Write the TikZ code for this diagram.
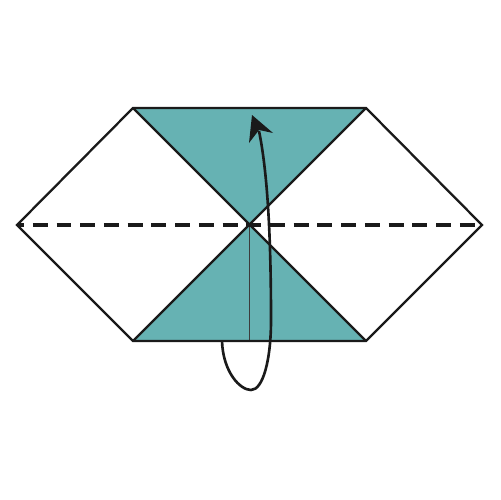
\documentclass[tikz,border=0pt]{standalone}
\definecolor{teal1}{HTML}{66B2B3}
\definecolor{ink}{HTML}{1A1A1A}
\begin{document}
\begin{tikzpicture}[x=0.02cm,y=-0.02cm,
  outline/.style={draw=ink,line width=1.3pt,line join=miter},
  fold/.style={draw=ink,line width=1.9pt,dash pattern=on 8.5pt off 5pt,dash phase=-9pt},
  crease/.style={draw=ink!85,line width=0.5pt},
  arrowline/.style={draw=ink,line width=1.5pt}]
\useasboundingbox (0,0) rectangle (500,500);
\coordinate (L) at (17,225);
\coordinate (TL) at (133,108);
\coordinate (TR) at (366,108);
\coordinate (R) at (482,225);
\coordinate (BR) at (366,341);
\coordinate (BL) at (133,341);
\coordinate (C) at (249.5,224.5);
\coordinate (B) at (249.5,341);
\fill[teal1] (TL) -- (TR) -- (C) -- cycle;
\fill[teal1] (BL) -- (BR) -- (C) -- cycle;
\draw[crease] (C) -- (B);
\draw[outline] (TL) -- (BR);
\draw[outline] (TR) -- (BL);
\draw[outline] (L) -- (TL) -- (TR) -- (R) -- (BR) -- (BL) -- cycle;
\draw[fold] (L) -- (R);
\coordinate (S) at (222,341);
\coordinate (Bot) at (251,390);
\coordinate (N) at (259,131);
\draw[arrowline] (S) .. controls (223,372) and (240,390) .. (Bot)
  .. controls (263,390) and (271,360) .. (271,320)
  .. controls (271,230) and (267,170) .. (N);
\fill[ink] (252,115) -- (273,133) -- (259,130) -- (249,143) -- cycle;
\end{tikzpicture}
\end{document}
